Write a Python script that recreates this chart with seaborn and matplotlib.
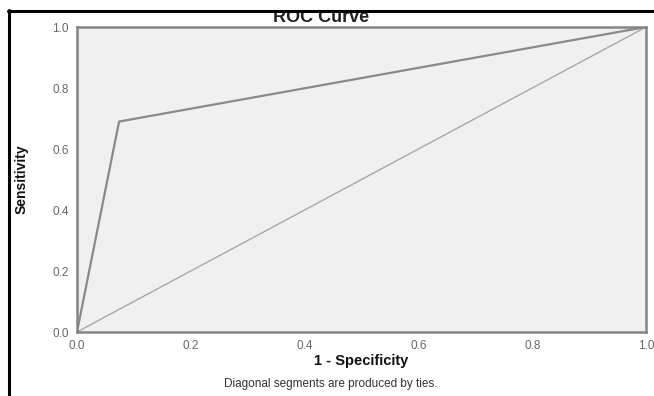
import numpy as np
import pandas as pd
import matplotlib
matplotlib.use('Agg')
import matplotlib.pyplot as plt
import seaborn as sns
from matplotlib.lines import Line2D

# ── Data ──────────────────────────────────────────────────
roc_fpr = [0.0, 0.074, 1.0]
roc_tpr = [0.0, 0.69, 1.0]
ref_fpr = [0.0, 1.0]
ref_tpr = [0.0, 1.0]
ticks = [0.0, 0.2, 0.4, 0.6, 0.8, 1.0]
tick_labels = ['0.0', '0.2', '0.4', '0.6', '0.8', '1.0']

roc_df = pd.DataFrame({'fpr': roc_fpr, 'tpr': roc_tpr})
ref_df = pd.DataFrame({'fpr': ref_fpr, 'tpr': ref_tpr})

# ── Style ─────────────────────────────────────────────────
sns.set_style('white')
plt.rcParams['font.family'] = ['Liberation Sans', 'DejaVu Sans']

fig = plt.figure(figsize=(6.54, 3.96), dpi=100)
ax = fig.add_axes([0.1177, 0.1616, 0.8701, 0.7702])
ax.set_facecolor('#f0f0f0')

sns.lineplot(data=ref_df, x='fpr', y='tpr', ax=ax, color='#a8a8a8',
             linewidth=1.0, sort=False)
sns.lineplot(data=roc_df, x='fpr', y='tpr', ax=ax, color='#8a8a8a',
             linewidth=1.6, sort=False)

ax.set_xlim(0, 1)
ax.set_ylim(0, 1)
ax.set_xticks(ticks)
ax.set_xticklabels(tick_labels)
ax.set_yticks(ticks)
ax.set_yticklabels(tick_labels)
ax.tick_params(axis='both', direction='out', length=5, width=1,
               color='#333333', labelsize=8.5, labelcolor='#666666', pad=1)

for s in ax.spines.values():
    s.set_visible(True)
    s.set_color('#858585')
    s.set_linewidth(1.8)

ax.set_xlabel('1 - Specificity', fontsize=10.5, fontweight='bold',
              color='#111111', labelpad=1)
ax.set_ylabel('Sensitivity', fontsize=10, fontweight='bold',
              color='#111111', labelpad=17, fontstretch='condensed')

# title sits under the screenshot frame, top part cut off
fig.text(0.491, 1 - 22 / 396, 'ROC Curve', ha='center', va='baseline',
         fontsize=13, fontweight='bold', color='#222222', zorder=8)

fig.text(0.505, 0.015, 'Diagonal segments are produced by ties.',
         ha='center', va='bottom', fontsize=8.5, color='#333333')

# black frame of the screenshot (top and left)
fig.add_artist(Line2D([8 / 654, 1], [1 - 10.5 / 396, 1 - 10.5 / 396],
                      transform=fig.transFigure, color='black',
                      linewidth=2.2, zorder=10))
fig.add_artist(Line2D([8.5 / 654, 8.5 / 654], [0, 1 - 10 / 396],
                      transform=fig.transFigure, color='black',
                      linewidth=2.2, zorder=10))
# white strip above the frame so the title looks clipped
fig.patches.append(plt.Rectangle((0, 1 - 10 / 396), 1, 10 / 396,
                                 transform=fig.transFigure, color='white',
                                 zorder=9))

fig.savefig('out.png', dpi=100)
